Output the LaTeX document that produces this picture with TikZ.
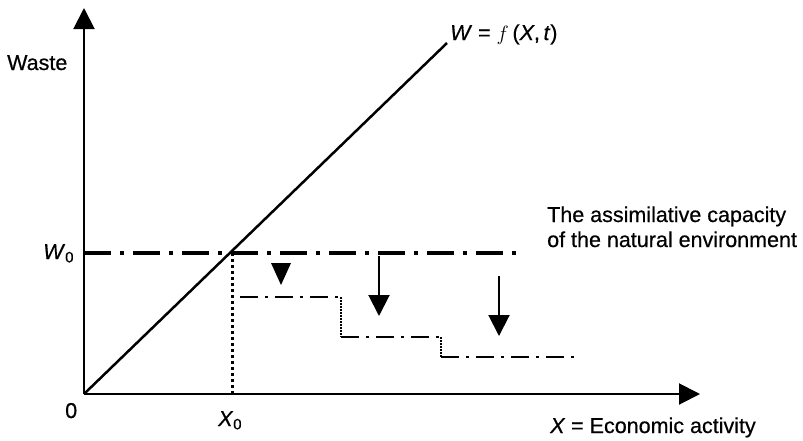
\documentclass[tikz,border=0pt]{standalone}
\usepackage{fontspec}
\setmainfont{Liberation Sans}[FakeBold=0.5]
\usetikzlibrary{arrows.meta,positioning}

\begin{document}
\begin{tikzpicture}[
    x=1pt, y=-1pt,
    axis/.style={line width=2pt, -{Triangle[length=21pt,width=21pt]}},
    capline/.style={line width=4pt, dash pattern=on 27pt off 9pt on 4pt off 9pt},
    stepline/.style={line width=2pt, dash pattern=on 18pt off 7pt on 3pt off 7pt},
    guide/.style={line width=3pt, dash pattern=on 3pt off 3pt},
    riser/.style={line width=1.5pt, dash pattern=on 1.5pt off 1.5pt},
    drop/.style={line width=2pt, -{Triangle[length=21pt,width=21pt]}},
    lbl/.style={font=\fontsize{21.5}{25}\selectfont, inner sep=0pt}
]
    \useasboundingbox (0,0) rectangle (803,440);

    % axes
    \coordinate (O) at (84,394);
    \coordinate (ytop) at (84,8);
    \coordinate (xend) at (700,394);
    \draw[axis] (O) -- (ytop);
    \draw[axis] (O) -- (xend);

    % waste function
    \coordinate (fend) at (447,43);
    \draw[line width=2.5pt] (O) -- (fend);

    % assimilative capacity
    \coordinate (w0) at (84,253);
    \coordinate (w0end) at (523,253);
    \coordinate (cross) at (232,253);
    \coordinate (x0) at (232,394);
    \draw[capline] (w0) -- (w0end);
    \draw[guide] (cross) -- (x0);

    % falling capacity steps
    \coordinate (s1) at (240,297);
    \coordinate (s1e) at (341,297);
    \coordinate (s2) at (341,337);
    \coordinate (s2e) at (441,337);
    \coordinate (s3) at (441,357);
    \coordinate (s3e) at (577,357);
    \draw[stepline] (s1) -- (s1e);
    \draw[riser] (s1e) -- (s2);
    \draw[stepline] (s2) -- (s2e);
    \draw[riser] (s2e) -- (s3);
    \draw[stepline] (s3) -- (s3e);

    % arrows
    \fill (271,263) -- (291,263) -- (281,285) -- cycle;
    \coordinate (a2) at (379,256);
    \coordinate (a2e) at (379,316);
    \coordinate (a3) at (499,276);
    \coordinate (a3e) at (499,336);
    \draw[drop] (a2) -- (a2e);
    \draw[drop] (a3) -- (a3e);

    % labels
    \node[lbl, anchor=base west] (waste) at (7,70) {Waste};
    \node[lbl, anchor=base west] (wlabel) at (43,259) {\textit{W}\textsubscript{0}};
    \node[lbl, anchor=base west] (zero) at (65,418) {0};
    \node[lbl, anchor=base west] (xlabel) at (218,426) {\textit{X}\textsubscript{0}};
    \node[lbl, anchor=base west] (xaxis) at (550,433) {\textit{X} = Economic activity};
    \node[lbl, anchor=base west] (flabel) at (450,40) {\textit{W} = $f$\,(\textit{X},\,\textit{t})};
    \node[lbl, anchor=base west, align=left] (cap) at (547,247) {The assimilative capacity\\of the natural environment};
\end{tikzpicture}
\end{document}
